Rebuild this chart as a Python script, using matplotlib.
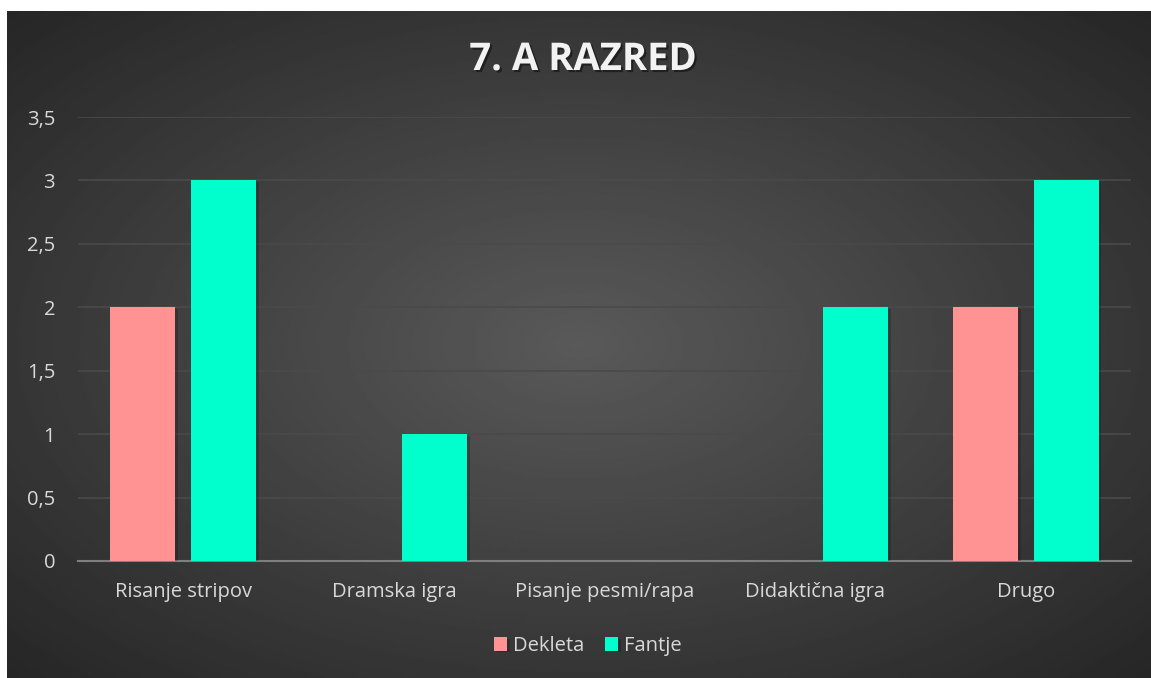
import numpy as np
import matplotlib.pyplot as plt
import matplotlib.patheffects as pe
from matplotlib.ticker import FuncFormatter

plt.rcParams['font.family'] = ['Open Sans', 'DejaVu Sans']

categories = ["Risanje stripov", "Dramska igra", "Pisanje pesmi/rapa", "Didaktična igra", "Drugo"]
dekleta = [2, 0, 0, 0, 2]
fantje = [3, 1, 0, 2, 3]
series_names = ["Dekleta", "Fantje"]
colors = ["#FF9393", "#00FFCC"]
text_col = "#D9D9D9"

W, H = 1151, 678
fig = plt.figure(figsize=(W / 100, H / 100), dpi=100)
fig.patch.set_facecolor("white")

# dark radial gradient panel
bg = fig.add_axes([7 / W, 0, 1 - 7 / W, 1 - 11 / H])
yy, xx = np.mgrid[-1:1:300j, -1:1:500j]
r = np.sqrt(xx ** 2 + yy ** 2) / np.sqrt(2)
shade = 0.35 - 0.2 * r
bg.imshow(shade, cmap="gray", vmin=0, vmax=1, aspect="auto", extent=[0, 1, 0, 1])
bg.axis("off")

ax = fig.add_axes([78 / W, 1 - 561 / H, (1131 - 78) / W, (561 - 117) / H])
ax.patch.set_alpha(0)

x = np.arange(len(categories))
bw = 0.309
off = 0.192
shadow = [pe.SimplePatchShadow(offset=(2, -1), shadow_rgbFace="black", alpha=0.18), pe.Normal()]
b1 = ax.bar(x - off, dekleta, bw, color=colors[0], label=series_names[0], zorder=3)
b2 = ax.bar(x + off, fantje, bw, color=colors[1], label=series_names[1], zorder=3)
for b in list(b1) + list(b2):
    b.set_path_effects(shadow)

ax.set_xlim(-0.5, len(categories) - 0.5)
ax.set_ylim(0, 3.5)
ax.set_yticks(np.arange(0, 3.51, 0.5))
ax.yaxis.set_major_formatter(FuncFormatter(lambda v, p: f"{v:g}".replace(".", ",")))
ax.set_xticks(x)
ax.set_xticklabels(categories)
ax.grid(axis="y", color="#4A4A4A", linewidth=1.2, zorder=0)
for s in ["top", "right", "left"]:
    ax.spines[s].set_visible(False)
ax.spines["bottom"].set_color("#7F7F7F")
ax.spines["bottom"].set_linewidth(1.5)
ax.tick_params(axis="both", length=0, colors=text_col, labelsize=14.5)
ax.tick_params(axis="y", pad=16.5)
ax.tick_params(axis="x", pad=15)

fig.text(583 / W, 1 - 60 / H, "7. A RAZRED", ha="center", va="center", fontsize=27.5,
         fontweight="bold", color="#F2F2F2",
         path_effects=[pe.withSimplePatchShadow(offset=(1.5, -1.5), shadow_rgbFace="black", alpha=0.45)])

leg = fig.legend(loc="center", bbox_to_anchor=(588 / W, 1 - 646 / H), ncol=2, frameon=False,
                 fontsize=14.5, handlelength=0.65, handleheight=0.65, handletextpad=0.3,
                 columnspacing=1.0, labelcolor=text_col)

fig.savefig("out.png", dpi=100, facecolor=fig.get_facecolor())
